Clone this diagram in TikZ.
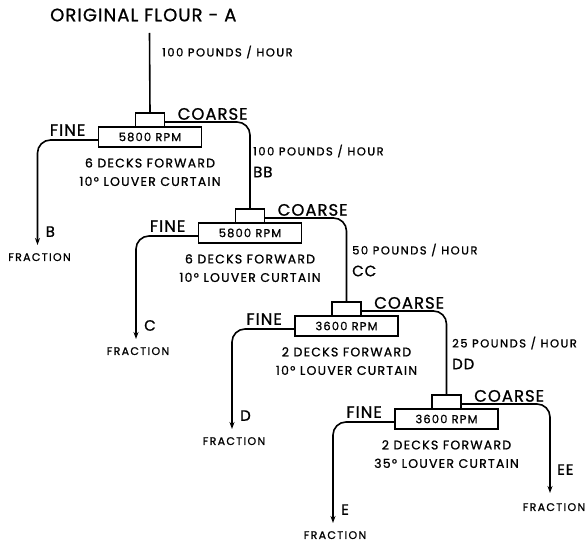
\documentclass[tikz,border=0pt]{standalone}
\usepackage{fontspec}
\setmainfont{Poppins}[FakeBold=1]
\usetikzlibrary{positioning,arrows.meta}

\begin{document}
\begin{tikzpicture}[x=1pt, y=-1pt, >={Stealth[length=7pt,width=5pt]},
    flow/.style={line width=1.6pt, rounded corners=13pt},
    rpmbox/.style={draw, line width=1.6pt, outer sep=0pt, minimum width=103pt, minimum height=20pt, inner sep=0pt, font=\fontsize{11.5}{12}\selectfont\addfontfeatures{LetterSpace=10}},
    feedbox/.style={draw, line width=1.6pt, outer sep=0pt, minimum width=29pt, minimum height=14pt, inner sep=0pt},
    setting/.style={align=center, inner sep=0pt, font=\fontsize{12.5}{18.5}\selectfont\addfontfeatures{LetterSpace=10}},
    rate/.style={anchor=west, inner sep=0pt, font=\fontsize{11.5}{12}\selectfont\addfontfeatures{LetterSpace=13}},
    stream/.style={inner sep=0pt, font=\fontsize{15}{15}\selectfont\addfontfeatures{LetterSpace=6}},
    branch/.style={inner sep=0pt, font=\fontsize{16.5}{17}\selectfont\addfontfeatures{LetterSpace=6}},
    fraction/.style={inner sep=0pt, font=\fontsize{11}{12}\selectfont\addfontfeatures{LetterSpace=12}}]

    \useasboundingbox (0,0) rectangle (586,545);

    % Feed
    \node[anchor=west, inner sep=0pt, font=\fontsize{18}{19}\selectfont\addfontfeatures{LetterSpace=6}] (flour) at (50,15) {ORIGINAL FLOUR - A};
    \coordinate (feed) at (149.5,33);

    % Classifier stages
    \foreach \n/\x/\y/\rpm/\decks/\deg in {1/150/137/5800/6/10, 2/250/233/5800/6/10, 3/346.5/326/3600/2/10, 4/446.5/419/3600/2/35} {
            \node[rpmbox] (r\n) at (\x,\y) {\rpm\ RPM};
            \node[feedbox, above=0pt of r\n] (h\n) {};
            \node[setting, below=11pt of r\n] (s\n) {\decks\ DECKS FORWARD\\\deg° LOUVER CURTAIN};
            \node[branch, above left=1pt and 13pt of r\n.west] (fine\n) {FINE};
            \node[branch, above right=0pt and 13pt of h\n.east] (coarse\n) {COARSE};
        }

    % Flow rates
    \node[rate] (rate1) at (162,52) {100 POUNDS / HOUR};
    \foreach \n/\x/\y/\q/\s in {2/253/151/100/BB, 3/352/250/50/CC, 4/452/343/25/DD} {
            \node[rate] (rate\n) at (\x,\y) {\q\ POUNDS / HOUR};
            \node[stream, anchor=west] (in\n) at (\x,\y+21) {\s};
        }

    % Coarse streams
    \draw[flow] (feed) -- (h1.north);
    \foreach \a/\b in {1/2, 2/3, 3/4} {
            \draw[flow] ([yshift=-2pt]h\a.east) -| (h\b.north);
        }

    % Fine fractions
    \foreach \n/\x/\y/\l in {1/37.5/245/B, 2/136/339/C, 3/232/429/D, 4/333/523/E} {
            \coordinate (t\n) at (\x,\y);
            \draw[flow, ->] ([yshift=-3pt]r\n.west) -| (t\n);
            \node[stream, above right=8pt and 8pt of t\n] (l\n) {\l};
            \node[fraction, below=8pt of t\n, xshift=2pt] (frac\n) {FRACTION};
        }
    \coordinate (tEE) at (550,493);
    \draw[flow, ->] ([yshift=-2pt]h4.east) -| (tEE);
    \node[stream, above right=18pt and 7pt of tEE] (lEE) {EE};
    \node[fraction, below=10pt of tEE, xshift=4pt] (fracEE) {FRACTION};
\end{tikzpicture}
\end{document}
